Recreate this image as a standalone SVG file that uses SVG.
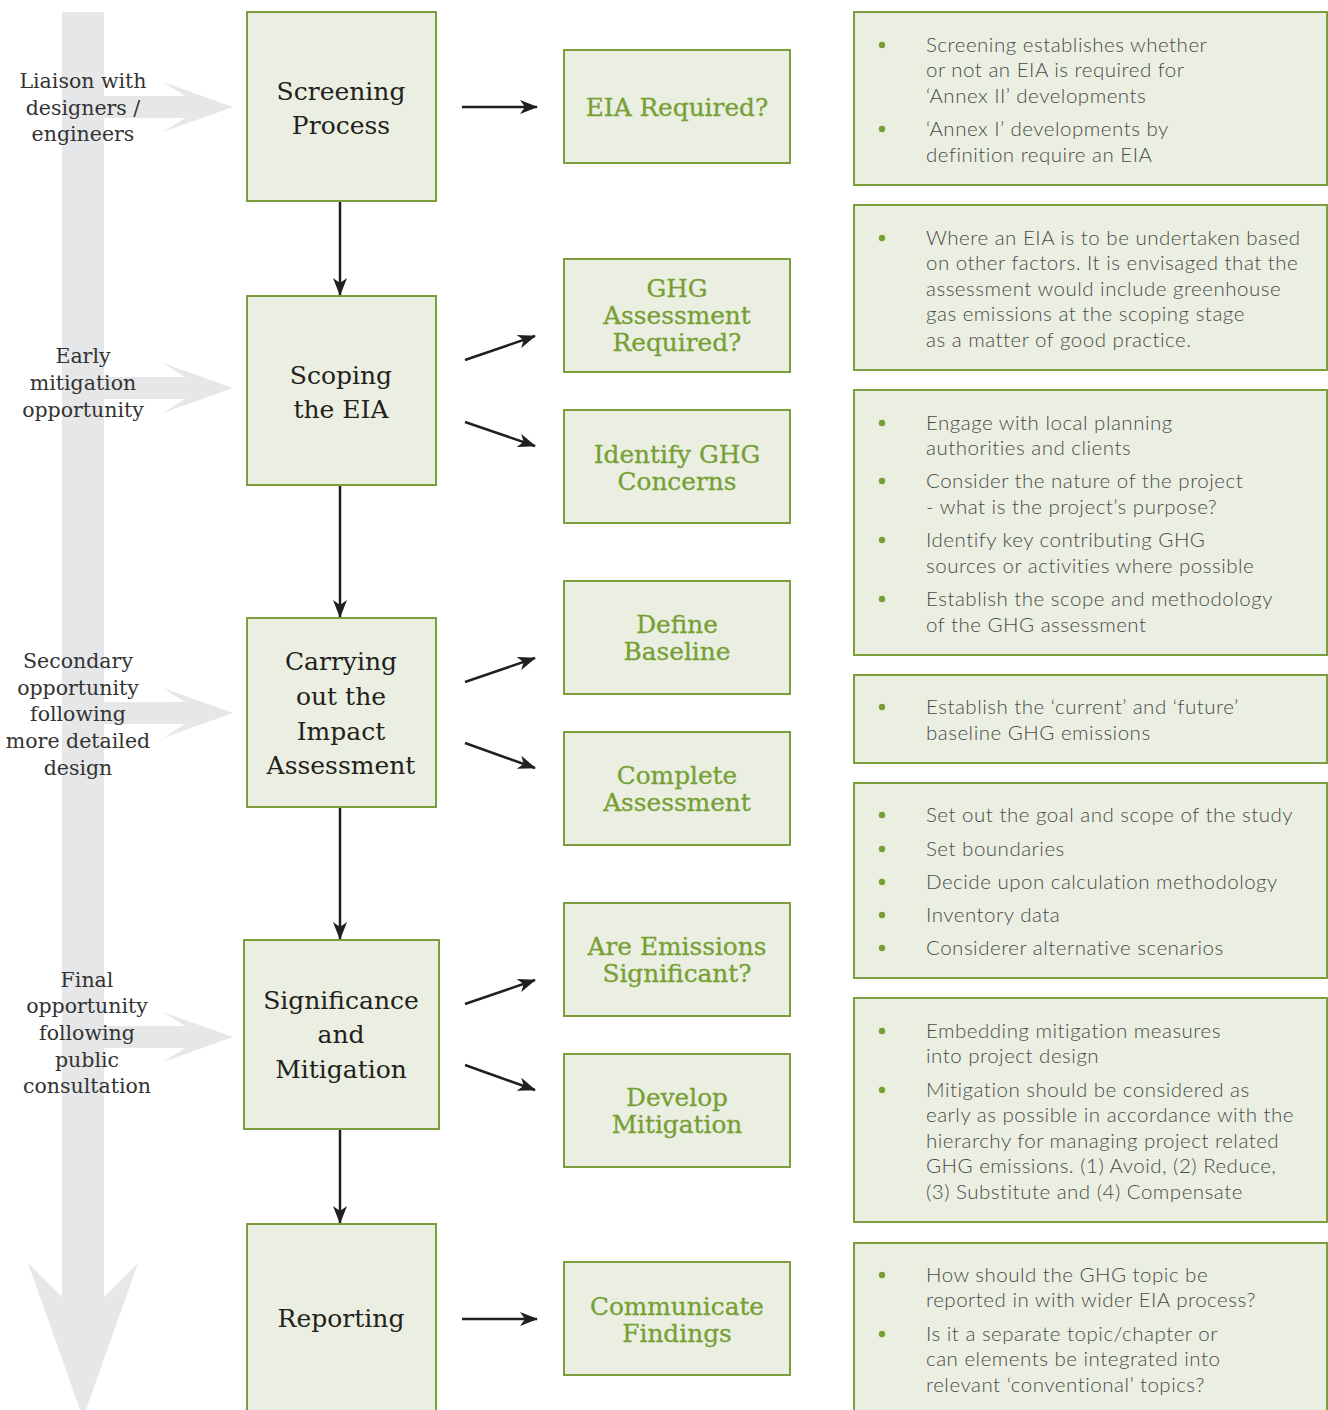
<svg xmlns="http://www.w3.org/2000/svg" width="1328" height="1410" viewBox="0 0 1328 1410">
<style>
.bg{fill:#e6e7e8}
.box{fill:#ebefe2;stroke:#7d9e3c;stroke-width:2}
.main{font-family:"DejaVu Serif",serif;font-size:25px;fill:#231f20;text-anchor:middle}
.mid{font-family:"DejaVu Serif",serif;font-size:24.8px;fill:#76a034;text-anchor:middle;stroke:#76a034;stroke-width:0.3}
.lbl{font-family:"DejaVu Serif",serif;font-size:20.5px;fill:#333333;text-anchor:middle}
.txt{font-family:Lato,"Open Sans",sans-serif;font-weight:300;font-size:20.5px;letter-spacing:0.5px;fill:#4a4a4a}
.dot{fill:#76a034}
.con{stroke:#231f20;stroke-width:2.5;fill:none}
</style>
<defs>
<marker id="ah" markerUnits="userSpaceOnUse" viewBox="0 0 18 14" refX="17" refY="7" markerWidth="18" markerHeight="14" orient="auto">
<path d="M0,0 L18,7 L0,14 L5,7 Z" fill="#231f20"/>
</marker>
</defs>

<g id="timeline">
<polygon class="bg" points="62,12 104,12 104,1297 138,1263 83,1418 28,1263 62,1297"/>
<polygon class="bg" points="104,96 185,96 163,82 233,107 163,132 185,118 104,118"/>
<polygon class="bg" points="104,377 185,377 163,363 233,388 163,413 185,399 104,399"/>
<polygon class="bg" points="104,702 185,702 163,688 233,713 163,738 185,724 104,724"/>
<polygon class="bg" points="104,1026 185,1026 163,1012 233,1037 163,1062 185,1048 104,1048"/>
<text class="lbl"><tspan x="83" y="88">Liaison with</tspan><tspan x="83" y="115">designers /</tspan><tspan x="83" y="141">engineers</tspan></text>
<text class="lbl"><tspan x="83" y="363">Early</tspan><tspan x="83" y="390">mitigation</tspan><tspan x="83" y="417">opportunity</tspan></text>
<text class="lbl"><tspan x="78" y="668">Secondary</tspan><tspan x="78" y="695">opportunity</tspan><tspan x="78" y="721">following</tspan><tspan x="78" y="748">more detailed</tspan><tspan x="78" y="775">design</tspan></text>
<text class="lbl"><tspan x="87" y="987">Final</tspan><tspan x="87" y="1013">opportunity</tspan><tspan x="87" y="1040">following</tspan><tspan x="87" y="1067">public</tspan><tspan x="87" y="1093">consultation</tspan></text>
</g>

<g id="connectors">
<line class="con" x1="462" y1="107" x2="537" y2="107" marker-end="url(#ah)"/>
<line class="con" x1="340" y1="202" x2="340" y2="295" marker-end="url(#ah)"/>
<line class="con" x1="465" y1="360" x2="535" y2="336" marker-end="url(#ah)"/>
<line class="con" x1="465" y1="422" x2="535" y2="446" marker-end="url(#ah)"/>
<line class="con" x1="340" y1="486" x2="340" y2="617" marker-end="url(#ah)"/>
<line class="con" x1="465" y1="682" x2="535" y2="658" marker-end="url(#ah)"/>
<line class="con" x1="465" y1="743" x2="535" y2="768" marker-end="url(#ah)"/>
<line class="con" x1="340" y1="808" x2="340" y2="939" marker-end="url(#ah)"/>
<line class="con" x1="465" y1="1004" x2="535" y2="980" marker-end="url(#ah)"/>
<line class="con" x1="465" y1="1065" x2="535" y2="1090" marker-end="url(#ah)"/>
<line class="con" x1="340" y1="1130" x2="340" y2="1223" marker-end="url(#ah)"/>
<line class="con" x1="462" y1="1319" x2="537" y2="1319" marker-end="url(#ah)"/>
</g>

<g id="screening"><rect class="box" x="247" y="12" width="189" height="189"/><text class="main"><tspan x="341" y="100">Screening</tspan><tspan x="341" y="134">Process</tspan></text></g>
<g id="scoping"><rect class="box" x="247" y="296" width="189" height="189"/><text class="main"><tspan x="341" y="384">Scoping</tspan><tspan x="341" y="418">the EIA</tspan></text></g>
<g id="carrying"><rect class="box" x="247" y="618" width="189" height="189"/><text class="main"><tspan x="341" y="670">Carrying</tspan><tspan x="341" y="705">out the</tspan><tspan x="341" y="740">Impact</tspan><tspan x="341" y="774">Assessment</tspan></text></g>
<g id="significance"><rect class="box" x="244" y="940" width="195" height="189"/><text class="main"><tspan x="341" y="1009">Significance</tspan><tspan x="341" y="1043">and</tspan><tspan x="341" y="1078">Mitigation</tspan></text></g>
<g id="reporting"><rect class="box" x="247" y="1224" width="189" height="200"/><text class="main"><tspan x="341" y="1327">Reporting</tspan></text></g>

<g id="eia-required"><rect class="box" x="564" y="50" width="226" height="113"/><text class="mid"><tspan x="677" y="116">EIA Required?</tspan></text></g>
<g id="ghg-required"><rect class="box" x="564" y="259" width="226" height="113"/><text class="mid"><tspan x="677" y="297">GHG</tspan><tspan x="677" y="324">Assessment</tspan><tspan x="677" y="351">Required?</tspan></text></g>
<g id="identify"><rect class="box" x="564" y="410" width="226" height="113"/><text class="mid"><tspan x="677" y="463">Identify GHG</tspan><tspan x="677" y="490">Concerns</tspan></text></g>
<g id="baseline"><rect class="box" x="564" y="581" width="226" height="113"/><text class="mid"><tspan x="677" y="633">Define</tspan><tspan x="677" y="660">Baseline</tspan></text></g>
<g id="complete"><rect class="box" x="564" y="732" width="226" height="113"/><text class="mid"><tspan x="677" y="784">Complete</tspan><tspan x="677" y="811">Assessment</tspan></text></g>
<g id="significant"><rect class="box" x="564" y="903" width="226" height="113"/><text class="mid"><tspan x="677" y="955">Are Emissions</tspan><tspan x="677" y="982">Significant?</tspan></text></g>
<g id="develop"><rect class="box" x="564" y="1054" width="226" height="113"/><text class="mid"><tspan x="677" y="1106">Develop</tspan><tspan x="677" y="1133">Mitigation</tspan></text></g>
<g id="communicate"><rect class="box" x="564" y="1262" width="226" height="113"/><text class="mid"><tspan x="677" y="1315">Communicate</tspan><tspan x="677" y="1342">Findings</tspan></text></g>

<g id="note-screening"><rect class="box" x="854" y="12" width="473" height="173"/>
<circle class="dot" cx="882" cy="45" r="3.2"/><circle class="dot" cx="882" cy="129" r="3.2"/>
<text class="txt"><tspan x="926" y="52">Screening establishes whether</tspan><tspan x="926" y="77">or not an EIA is required for</tspan><tspan x="926" y="103">‘Annex II’ developments</tspan><tspan x="926" y="136">‘Annex I’ developments by</tspan><tspan x="926" y="162">definition require an EIA</tspan></text></g>

<g id="note-ghg"><rect class="box" x="854" y="205" width="473" height="165"/>
<circle class="dot" cx="882" cy="238" r="3.2"/>
<text class="txt"><tspan x="926" y="245">Where an EIA is to be undertaken based</tspan><tspan x="926" y="270">on other factors. It is envisaged that the</tspan><tspan x="926" y="296">assessment would include greenhouse</tspan><tspan x="926" y="321">gas emissions at the scoping stage</tspan><tspan x="926" y="347">as a matter of good practice.</tspan></text></g>

<g id="note-scoping"><rect class="box" x="854" y="390" width="473" height="265"/>
<circle class="dot" cx="882" cy="423" r="3.2"/><circle class="dot" cx="882" cy="481" r="3.2"/><circle class="dot" cx="882" cy="540" r="3.2"/><circle class="dot" cx="882" cy="599" r="3.2"/>
<text class="txt"><tspan x="926" y="430">Engage with local planning</tspan><tspan x="926" y="455">authorities and clients</tspan><tspan x="926" y="488">Consider the nature of the project</tspan><tspan x="926" y="514">- what is the project’s purpose?</tspan><tspan x="926" y="547">Identify key contributing GHG</tspan><tspan x="926" y="573">sources or activities where possible</tspan><tspan x="926" y="606">Establish the scope and methodology</tspan><tspan x="926" y="632">of the GHG assessment</tspan></text></g>

<g id="note-baseline"><rect class="box" x="854" y="675" width="473" height="88"/>
<circle class="dot" cx="882" cy="707" r="3.2"/>
<text class="txt"><tspan x="926" y="714">Establish the ‘current’ and ‘future’</tspan><tspan x="926" y="740">baseline GHG emissions</tspan></text></g>

<g id="note-assessment"><rect class="box" x="854" y="783" width="473" height="195"/>
<circle class="dot" cx="882" cy="815" r="3.2"/><circle class="dot" cx="882" cy="849" r="3.2"/><circle class="dot" cx="882" cy="882" r="3.2"/><circle class="dot" cx="882" cy="915" r="3.2"/><circle class="dot" cx="882" cy="948" r="3.2"/>
<text class="txt"><tspan x="926" y="822">Set out the goal and scope of the study</tspan><tspan x="926" y="856">Set boundaries</tspan><tspan x="926" y="889">Decide upon calculation methodology</tspan><tspan x="926" y="922">Inventory data</tspan><tspan x="926" y="955">Considerer alternative scenarios</tspan></text></g>

<g id="note-mitigation"><rect class="box" x="854" y="998" width="473" height="224"/>
<circle class="dot" cx="882" cy="1031" r="3.2"/><circle class="dot" cx="882" cy="1090" r="3.2"/>
<text class="txt"><tspan x="926" y="1038">Embedding mitigation measures</tspan><tspan x="926" y="1063">into project design</tspan><tspan x="926" y="1097">Mitigation should be considered as</tspan><tspan x="926" y="1122">early as possible in accordance with the</tspan><tspan x="926" y="1148">hierarchy for managing project related</tspan><tspan x="926" y="1173">GHG emissions. (1) Avoid, (2) Reduce,</tspan><tspan x="926" y="1199">(3) Substitute and (4) Compensate</tspan></text></g>

<g id="note-reporting"><rect class="box" x="854" y="1243" width="473" height="180"/>
<circle class="dot" cx="882" cy="1275" r="3.2"/><circle class="dot" cx="882" cy="1334" r="3.2"/>
<text class="txt"><tspan x="926" y="1282">How should the GHG topic be</tspan><tspan x="926" y="1307">reported in with wider EIA process?</tspan><tspan x="926" y="1341">Is it a separate topic/chapter or</tspan><tspan x="926" y="1366">can elements be integrated into</tspan><tspan x="926" y="1392">relevant ‘conventional’ topics?</tspan></text></g>
</svg>
